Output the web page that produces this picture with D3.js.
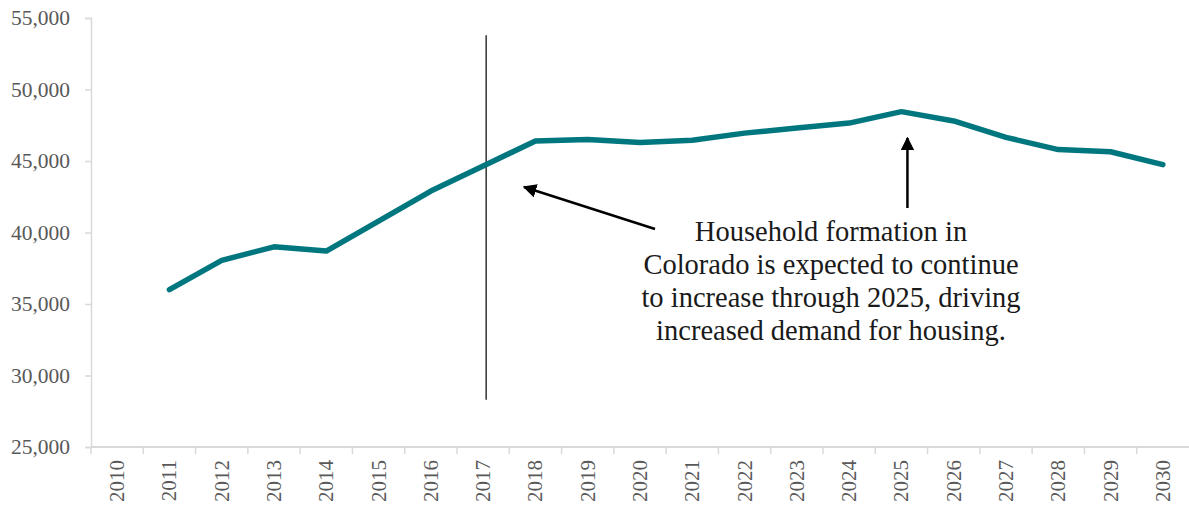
<!DOCTYPE html>
<html>
<head>
<meta charset="utf-8">
<script src="https://cdn.jsdelivr.net/npm/d3@7"></script>
<style>
  body { margin: 0; background: #fff; }
  svg text { font-family: "Liberation Serif", "DejaVu Serif", serif; }
</style>
</head>
<body>
<div id="chart"></div>
<script>
// household formation, Colorado (2010 has no value)
var years = ["2010","2011","2012","2013","2014","2015","2016","2017","2018","2019","2020",
             "2021","2022","2023","2024","2025","2026","2027","2028","2029","2030"];
var households = [null, 36000, 38050, 39000, 38700, 40800, 42900, 44650, 46400, 46500, 46300,
                  46450, 46950, 47300, 47650, 48450, 47800, 46650, 45800, 45650, 44750];
var yTicks = [25000, 30000, 35000, 40000, 45000, 50000, 55000];
var note = ["Household formation in", "Colorado is expected to continue",
            "to increase through 2025, driving", "increased demand for housing."];

function init(){
    var w = 1189;
    var h = 508;
    var left = 91, right = 1189, top = 18, bottom = 447;

    var svg = d3.select('#chart')
                .append('svg')
                .attr('width', w)
                .attr('height', h);

    var xScale = d3.scaleBand()
                    .domain(years)
                    .range([left, right]);

    var yScale = d3.scaleLinear()
                    .domain([25000, 55000])
                    .range([bottom, top]);

    // y axis
    var yAxis = svg.append('g')
        .attr('transform', 'translate(' + left + ',0)')
        .call(d3.axisLeft(yScale).tickValues(yTicks).tickSize(6).tickPadding(15)
              .tickFormat(d3.format(',')));
    yAxis.select('.domain').attr('stroke', '#d9d9d9').attr('stroke-width', 1.5);
    yAxis.selectAll('.tick line').attr('stroke', '#d9d9d9').attr('stroke-width', 1.5);
    yAxis.selectAll('text').attr('fill', '#595959').attr('font-size', '21.5px')
        .attr('font-family', '"Liberation Serif", serif');

    // x axis, ticks on band edges
    var xg = svg.append('g').attr('transform', 'translate(0,' + bottom + ')');
    xg.append('line')
        .attr('x1', left).attr('x2', right)
        .attr('stroke', '#d9d9d9').attr('stroke-width', 2);
    xg.selectAll('.edge')
        .data(years)
        .enter()
        .append('line')
        .attr('x1', function(d){ return xScale(d); })
        .attr('x2', function(d){ return xScale(d); })
        .attr('y1', 0).attr('y2', 7)
        .attr('stroke', '#d9d9d9').attr('stroke-width', 1.5);
    xg.selectAll('.lab')
        .data(years)
        .enter()
        .append('text')
        .attr('transform', function(d){
            return 'translate(' + (xScale(d) + xScale.bandwidth()/2 + 7) + ',13) rotate(-90)';
        })
        .attr('text-anchor', 'end')
        .attr('fill', '#595959')
        .attr('font-size', '21px')
        .text(function(d){ return d; });

    // vertical marker at 2017
    var xm = xScale('2017') + xScale.bandwidth()/2 + 3;
    svg.append('line')
        .attr('x1', xm).attr('x2', xm)
        .attr('y1', yScale(53800)).attr('y2', yScale(28300))
        .attr('stroke', '#000').attr('stroke-width', 1.2);

    // series line
    var line = d3.line()
        .defined(function(d){ return d != null; })
        .x(function(d, i){ return xScale(years[i]) + xScale.bandwidth()/2; })
        .y(function(d){ return yScale(d); });

    svg.append('path')
        .datum(households)
        .attr('d', line)
        .attr('fill', 'none')
        .attr('stroke', '#00767f')
        .attr('stroke-width', 5.5)
        .attr('stroke-linecap', 'round')
        .attr('stroke-linejoin', 'round');

    // arrows
    svg.append('defs').append('marker')
        .attr('id', 'head')
        .attr('viewBox', '0 0 10 10')
        .attr('refX', 9).attr('refY', 5)
        .attr('markerWidth', 5.5).attr('markerHeight', 5.5)
        .attr('markerUnits', 'strokeWidth')
        .attr('orient', 'auto')
        .append('path')
        .attr('d', 'M0,0 L10,5 L0,10 Z')
        .attr('fill', '#000');

    svg.append('line')
        .attr('x1', 655).attr('y1', 229)
        .attr('x2', 524).attr('y2', 187)
        .attr('stroke', '#000').attr('stroke-width', 2.5)
        .attr('marker-end', 'url(#head)');

    var xa = xScale('2025') + xScale.bandwidth()/2 + 6;
    svg.append('line')
        .attr('x1', xa).attr('y1', 208)
        .attr('x2', xa).attr('y2', 138)
        .attr('stroke', '#000').attr('stroke-width', 2.5)
        .attr('marker-end', 'url(#head)');

    // annotation text
    svg.append('text')
        .attr('text-anchor', 'middle')
        .attr('fill', '#1a1a1a')
        .attr('font-size', '28.5px')
        .selectAll('tspan')
        .data(note)
        .enter()
        .append('tspan')
        .attr('x', 831)
        .attr('y', function(d, i){ return 241 + i * 33; })
        .text(function(d){ return d; });
}

window.onload = init;
</script>
</body>
</html>
